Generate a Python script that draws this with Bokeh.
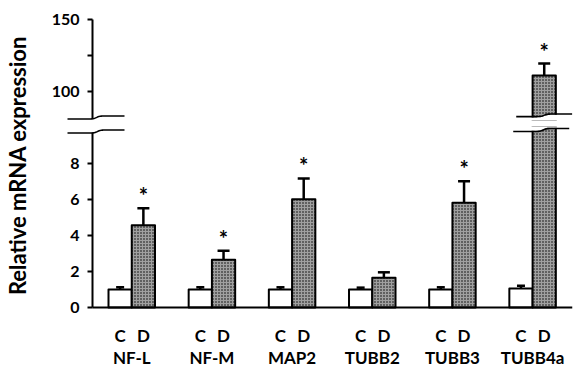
import numpy as np
from bokeh.plotting import figure
from bokeh.layouts import row, column
from bokeh.models import Range1d, FixedTicker, PolyAnnotation, ColumnDataSource, LinearAxis
from bokeh.core.properties import value
from bokeh.embed import file_html
from bokeh.resources import INLINE

# ---------------- data ----------------
genes = ["NF-L", "NF-M", "MAP2", "TUBB2", "TUBB3", "TUBB4a"]
groups = ["C", "D"]
control = [1.0, 1.0, 1.0, 1.0, 1.0, 1.05]
control_err = [0.12, 0.12, 0.12, 0.10, 0.12, 0.15]
treated = [4.55, 2.65, 6.0, 1.65, 5.8, 111.0]
treated_err = [0.95, 0.5, 1.15, 0.3, 1.2, 8.3]
significant = [True, True, True, False, True, True]
lower_ticks = [0, 2, 4, 6, 8]
upper_ticks = [100, 150]
upper_minor_ticks = [125]
y_title = "Relative mRNA expression"

# ---------------- layout constants ----------------
FONT = "Lato"
DODGE = 0.145
BAR_W = 0.29
LAB_W = 34
FRAME_LEFT, FRAME_RIGHT = 39, 572
AXIS_PX = 92
K_X = 80.17                      # px per group
X0_PX = 131.25                   # px of first group centre
X_START = (FRAME_LEFT - X0_PX) / K_X
X_END = (FRAME_RIGHT - X0_PX) / K_X
Y_AXIS_X = (AXIS_PX - X0_PX) / K_X

TOP_FRAME_Y, TOP_FRAME_BOTTOM = 8, 120
LOW_FRAME_Y, LOW_FRAME_BOTTOM = 126, 367
Y150_PX, Y0_PX = 19, 307
K_UP, K_LOW = 1.434, 18.05       # px per unit
UP_MAX = 150.0 + (Y150_PX - TOP_FRAME_Y) / K_UP
UP_MIN = UP_MAX - (TOP_FRAME_BOTTOM - TOP_FRAME_Y) / K_UP
LOW_MAX = (Y0_PX - LOW_FRAME_Y) / K_LOW
LOW_MIN = -(LOW_FRAME_BOTTOM - Y0_PX) / K_LOW


def up_data(ypx):
    return UP_MAX - (ypx - TOP_FRAME_Y) / K_UP


def low_data(ypx):
    return LOW_MAX - (ypx - LOW_FRAME_Y) / K_LOW


def px_x(px):
    return X_START + (px - FRAME_LEFT) / K_X


gx = list(range(len(genes)))
xc = [round(i - DODGE, 4) for i in gx]
xd = [round(i + DODGE, 4) for i in gx]


def panel_sources(lo, hi):
    c = dict(x=[], top=[]); ce = dict(x=[], top=[], etop=[])
    d = dict(x=[], top=[]); de = dict(x=[], top=[], etop=[])
    s = dict(x=[], y=[], t=[])
    for x, v, e in zip(xc, control, control_err):
        if v > lo:
            c["x"].append(x); c["top"].append(v)
        if v < hi and v + e > lo:
            ce["x"].append(x); ce["top"].append(v); ce["etop"].append(v + e)
    for x, v, e, sig in zip(xd, treated, treated_err, significant):
        if v > lo:
            d["x"].append(x); d["top"].append(v)
        if v < hi and v + e > lo:
            de["x"].append(x); de["top"].append(v); de["etop"].append(v + e)
            if sig:
                s["x"].append(x); s["y"].append(v + e); s["t"].append("*")
    return [ColumnDataSource(z) for z in (c, ce, d, de, s)]


def style_y(ax):
    ax.axis_line_width = 2
    ax.major_tick_line_width = 2
    ax.major_tick_out = 5
    ax.major_tick_in = 0
    ax.minor_tick_out = 5
    ax.minor_tick_in = 0
    ax.minor_tick_line_width = 2
    ax.major_label_text_font = FONT
    ax.major_label_text_font_style = "bold"
    ax.major_label_text_font_size = "16px"
    ax.major_label_text_color = "black"
    ax.major_label_standoff = 8


def draw(p, lo, hi):
    c_src, ce_src, d_src, de_src, s_src = panel_sources(lo, hi)
    p.vbar(x="x", top="top", bottom=0, width=BAR_W, source=c_src, fill_color="white",
           line_color="black", line_width=2, line_join="round")
    p.vbar(x="x", top="top", bottom=0, width=BAR_W, source=d_src, fill_color="#a0a0a0",
           hatch_pattern="dot", hatch_scale=3, hatch_weight=1.6, hatch_color="black",
           line_color="black", line_width=2, line_join="round")
    for src, cap in ((ce_src, 8), (de_src, 12)):
        p.segment(x0="x", y0="top", x1="x", y1="etop", source=src,
                  line_color="black", line_width=2.5)
        p.scatter(x="x", y="etop", source=src, marker="dash", size=cap,
                  line_color="black", line_width=2.5)
    p.text(x="x", y="y", text="t", source=s_src, text_align="center",
           text_baseline="bottom", text_font=value(FONT), text_font_style="bold",
           text_font_size="22px", text_color="black", y_offset=1)


common = dict(width=FRAME_RIGHT - LAB_W + 4, x_range=Range1d(X_START, X_END),
              output_backend="svg", toolbar_location=None, y_axis_location=None,
              x_axis_location=None, min_border_left=FRAME_LEFT - LAB_W, min_border_right=4)

TOP_H = TOP_FRAME_BOTTOM + 3
# ---------------- upper panel ----------------
top = figure(height=TOP_H, y_range=Range1d(UP_MIN, UP_MAX),
             min_border_top=TOP_FRAME_Y, min_border_bottom=3, **common)
draw(top, UP_MIN, UP_MAX)
ya_top = LinearAxis(fixed_location=Y_AXIS_X,
                    ticker=FixedTicker(ticks=upper_ticks, minor_ticks=upper_minor_ticks),
                    bounds=(up_data(118.0), 150.0))
style_y(ya_top)
top.add_layout(ya_top, "left")

# ---------------- lower panel ----------------
low = figure(height=LOW_FRAME_BOTTOM - TOP_H, y_range=Range1d(LOW_MIN, LOW_MAX),
             min_border_top=LOW_FRAME_Y - TOP_H, min_border_bottom=0, **common)
draw(low, 0, LOW_MAX)
ya_low = LinearAxis(fixed_location=Y_AXIS_X, ticker=FixedTicker(ticks=lower_ticks),
                    bounds=(0, low_data(132.0)))
style_y(ya_low)
low.add_layout(ya_low, "left")

xa = LinearAxis(fixed_location=0, ticker=FixedTicker(ticks=xc + xd),
                major_label_overrides={**{x: "C" for x in xc}, **{x: "D" for x in xd}},
                bounds=(Y_AXIS_X, X_END))
xa2 = LinearAxis(fixed_location=0, ticker=FixedTicker(ticks=gx),
                 major_label_overrides={i: g for i, g in zip(gx, genes)})
for ax, sto in ((xa, 17), (xa2, 39)):
    ax.major_tick_line_color = None
    ax.minor_tick_line_color = None
    ax.major_tick_out = 0
    ax.minor_tick_out = 0
    ax.major_label_text_font = FONT
    ax.major_label_text_font_style = "bold"
    ax.major_label_text_font_size = "17px"
    ax.major_label_text_color = "black"
    ax.major_label_standoff = sto
    low.add_layout(ax, "below")
xa.axis_line_width = 2
xa2.axis_line_color = None

for p in (top, low):
    p.xgrid.visible = False
    p.ygrid.visible = False
    p.outline_line_color = None

# ---------------- axis breaks ----------------
def wave_y(xs, xm, mid, amp):
    return mid + amp * np.tanh((xm - xs) / 3.0)


def add_break(p, x0px, x1px, xm, mid, amp, to_data, mask_to=None):
    xs = np.linspace(x0px, x1px, 50)
    yc = wave_y(xs, xm, mid, amp)
    if mask_to is not None:
        edge = yc + 0.8 if mask_to > mid else yc - 0.8
        MX = np.concatenate([xs, xs[::-1]])
        MY = np.concatenate([edge, np.full_like(xs, mask_to)])
        p.add_layout(PolyAnnotation(xs=[float(px_x(v)) for v in MX],
                                    ys=[float(to_data(v)) for v in MY],
                                    fill_color="white", fill_alpha=1, line_color=None))
    X = np.concatenate([xs, xs[::-1]])
    Y = np.concatenate([yc - 0.8, (yc + 0.8)[::-1]])
    p.add_layout(PolyAnnotation(xs=[float(px_x(v)) for v in X],
                                ys=[float(to_data(v)) for v in Y],
                                fill_color="black", fill_alpha=1, line_color=None))


last_d = X0_PX + xd[-1] * K_X
top_bottom = TOP_FRAME_BOTTOM + 2
low_top = LOW_FRAME_Y - 2
add_break(top, AXIS_PX - 25, AXIS_PX + 32, AXIS_PX + 4, 117.0, 1.5, up_data, top_bottom)
add_break(top, last_d - 28, last_d + 28, last_d, 114.8, 1.3, up_data, top_bottom)
add_break(low, AXIS_PX - 25, AXIS_PX + 32, AXIS_PX + 5, 131.0, 1.5, low_data, low_top)
add_break(low, last_d - 31, last_d + 25, last_d - 1, 129.5, 1.5, low_data, low_top)

# ---------------- y title ----------------
lab = figure(width=LAB_W, height=367, x_range=Range1d(0, 1), y_range=Range1d(0, 1),
             output_backend="svg", toolbar_location=None, min_border=0,
             x_axis_location=None, y_axis_location=None)
lab.xgrid.visible = False
lab.ygrid.visible = False
lab.outline_line_color = None
lab.text(x=[17 / LAB_W], y=[1 - 165 / 367], text=[y_title], angle=np.pi / 2,
         text_align="center", text_baseline="middle", text_font=value(FONT),
         text_font_style="bold", text_font_size="22px", text_color="black")

layout = row(lab, column(top, low))
open("out.html", "w").write(file_html(layout, INLINE))
